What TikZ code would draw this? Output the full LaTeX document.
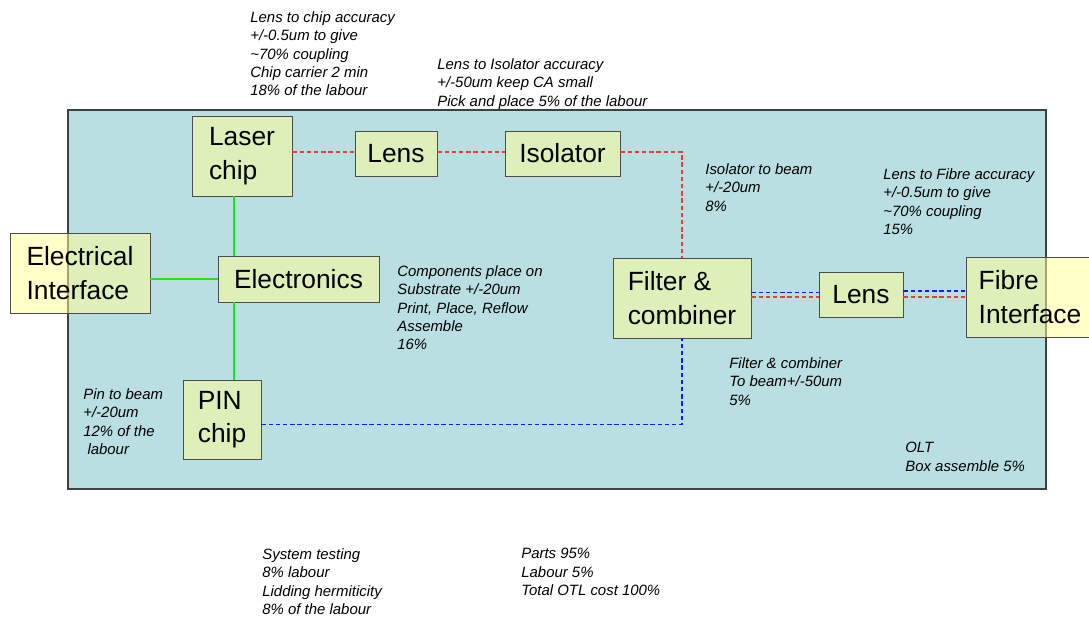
\documentclass[tikz,border=0pt]{standalone}
\usepackage{fontspec}
\setmainfont{Liberation Sans}
\usepackage{xcolor}
\usepackage{tikz}
\usetikzlibrary{arrows.meta}
\usetikzlibrary{calc}

\definecolor{boardblue}{RGB}{185,223,226}
\definecolor{partyellow}{RGB}{255,255,149}
\definecolor{optred}{RGB}{235,60,60}
\definecolor{optblue}{RGB}{20,30,240}
\definecolor{wiregreen}{RGB}{30,230,30}

\begin{document}
\begin{tikzpicture}[x=0.02cm, y=-0.02cm,
  part/.style={draw=black!70, fill=partyellow, fill opacity=0.53, text opacity=1,
    inner sep=0pt, align=left, font=\fontsize{15}{19}\selectfont},
  note/.style={anchor=north west, inner sep=0pt, align=left,
    font=\fontsize{8.5}{10.5}\selectfont\itshape},
  redbeam/.style={optred, line width=0.85pt, dash pattern=on 2.5pt off 1.6pt},
  bluebeam/.style={optblue, line width=0.8pt, dash pattern=on 2.5pt off 1.6pt},
  wire/.style={wiregreen, line width=0.7pt}]
 \useasboundingbox (0,0) rectangle (1089,616);

 % OLT board
 \draw[fill=boardblue, draw=black!75, line width=0.7pt] (68,110) rectangle (1046,489);

 \node[part, minimum width=2cm, minimum height=1.6cm] (laser) at (242,156) {Laser\\chip};
 \node[part, minimum width=1.64cm, minimum height=0.9cm] (lensA) at (396,153.5) {Lens};
 \node[part, minimum width=2.3cm, minimum height=0.9cm] (isolator) at (562.5,153.5) {Isolator};
 \node[part, minimum width=2.8cm, minimum height=1.6cm] (elif) at (80,273) {Electrical\\Interface};
 \node[part, minimum width=3.22cm, minimum height=0.92cm] (electronics) at (298.5,279) {Electronics};
 \node[part, minimum width=2.76cm, minimum height=1.6cm] (filter) at (682,298) {Filter \&\\combiner};
 \node[part, minimum width=1.68cm, minimum height=0.9cm] (lensB) at (861,294.5) {Lens};
 \node[part, minimum width=2.56cm, minimum height=1.6cm] (fibre) at (1030,297) {Fibre\\Interface};
 \node[part, minimum width=1.56cm, minimum height=1.58cm] (pin) at (222,419.5) {PIN\\chip};

 % electrical wiring
 \coordinate (bus) at (234,0);
 \draw[wire] (laser.south -| bus) -- (electronics.north -| bus);
 \draw[wire] (electronics.south -| bus) -- (pin.north -| bus);
 \draw[wire] (elif.east |- electronics.west) -- (electronics.west);

 % optical paths
 \coordinate (beam) at (0,152);
 \draw[redbeam] (laser.east |- beam) -- (lensA.west |- beam);
 \draw[redbeam] (lensA.east |- beam) -- (isolator.west |- beam);
 \draw[redbeam] (isolator.east |- beam) -| (filter.north);
 \draw[bluebeam] ([yshift=-0.1cm]pin.east) -| (filter.south);
 \draw[bluebeam, transform canvas={yshift=1.3pt}] (filter.east |- lensB.west) -- (lensB.west);
 \draw[redbeam, transform canvas={yshift=-1.3pt}] (filter.east |- lensB.west) -- (lensB.west);
 \draw[bluebeam, transform canvas={yshift=2pt}] (lensB.east) -- (fibre.west |- lensB.east);
 \draw[redbeam, transform canvas={yshift=-1.4pt}] (lensB.east) -- (fibre.west |- lensB.east);

 % tolerances and labour
 \node[note] (nchip) at (250,11) {Lens to chip accuracy\\+/-0.5um to give\\\textasciitilde70\% coupling\\Chip carrier 2 min\\18\% of the labour};
 \node[note] (niso) at (437,58) {Lens to Isolator accuracy\\+/-50um keep CA small\\Pick and place 5\% of the labour};
 \node[note] (nbeam) at (705,163) {Isolator to beam\\+/-20um\\8\%};
 \node[note] (nfibre) at (883,168) {Lens to Fibre accuracy\\+/-0.5um to give\\\textasciitilde70\% coupling\\15\%};
 \node[note] (nsub) at (397,265) {Components place on\\Substrate +/-20um\\Print, Place, Reflow\\Assemble\\16\%};
 \node[note] (nfilter) at (729,357) {Filter \& combiner\\To beam+/-50um\\5\%};
 \node[note] (npin) at (83,388) {Pin to beam\\+/-20um\\12\% of the\\\ labour};
 \node[note] (nbox) at (905,442) {OLT\\Box assemble 5\%};
 \node[note] (ntest) at (262,548) {System testing\\8\% labour\\Lidding hermiticity\\8\% of the labour};
 \node[note] (ncost) at (521,548) {Parts 95\%\\Labour 5\%\\Total OTL cost 100\%};
\end{tikzpicture}
\end{document}
